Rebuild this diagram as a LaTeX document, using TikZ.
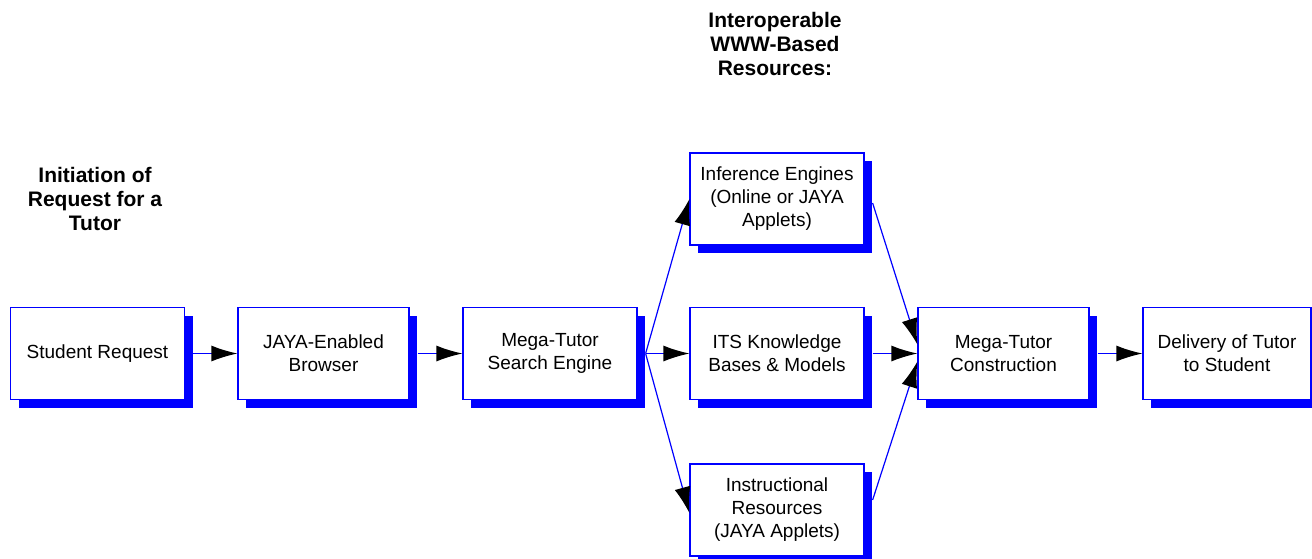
\documentclass[tikz,border=0pt]{standalone}
\usepackage{fontspec}
\setmainfont{Liberation Sans}
\usetikzlibrary{arrows.meta,shadows}
\begin{document}
\begin{tikzpicture}[x=0.5pt,y=-0.5pt,
  box/.style={draw=blue, line width=0.6pt, fill=white, align=center,
    minimum width=87pt, minimum height=46pt, inner sep=1pt,
    font=\fontsize{9.5}{11.5}\selectfont,
    drop shadow={shadow xshift=4pt, shadow yshift=-4pt, fill=blue, opacity=1}},
  head/.style={align=center, font=\fontsize{10.5}{12}\selectfont\bfseries},
  conn/.style={draw=blue, line width=0.6pt, -{Latex[length=13pt,width=8pt,black]}}]
\useasboundingbox (0,0) rectangle (1312,558);
\node[head] (h1) at (95,199) {Initiation of\\Request for a\\Tutor};
\node[head] (h2) at (775,44) {Interoperable\\WWW-Based\\Resources:};
\node[box] (sr) at (97.5,353.5) {Student Request};
\node[box, minimum width=85.5pt] (jb) at (323.5,353.5) {JAYA-Enabled\\Browser};
\node[box] (se) at (550,353.5) {Mega-Tutor\\Search Engine};
\node[box] (inf) at (777,199) {Inference Engines\\(Online or JAYA\\Applets)};
\node[box] (its) at (777,353.5) {ITS Knowledge\\Bases \& Models};
\node[box] (ins) at (777,510) {Instructional\\Resources\\(JAYA Applets)};
\node[box, minimum width=85.5pt] (con) at (1003.5,353.5) {Mega-Tutor\\Construction};
\node[box, minimum width=84pt] (del) at (1227,353.5) {Delivery of Tutor\\to Student};
\draw[conn] ([xshift=4pt]sr.east) -- (jb.west);
\draw[conn] ([xshift=4pt]jb.east) -- (se.west);
\draw[conn] ([xshift=4pt]se.east) -- (inf.west);
\draw[conn] ([xshift=4pt]se.east) -- (its.west);
\draw[conn] ([xshift=4pt]se.east) -- ([yshift=-1.5pt]ins.west);
\draw[conn] ([xshift=4pt,yshift=-2pt]inf.east) -- ([yshift=4.5pt]con.west);
\draw[conn] ([xshift=4pt]its.east) -- (con.west);
\draw[conn] ([xshift=4pt,yshift=5pt]ins.east) -- ([yshift=-4pt]con.west);
\draw[conn] ([xshift=4pt]con.east) -- (del.west);
\end{tikzpicture}
\end{document}
